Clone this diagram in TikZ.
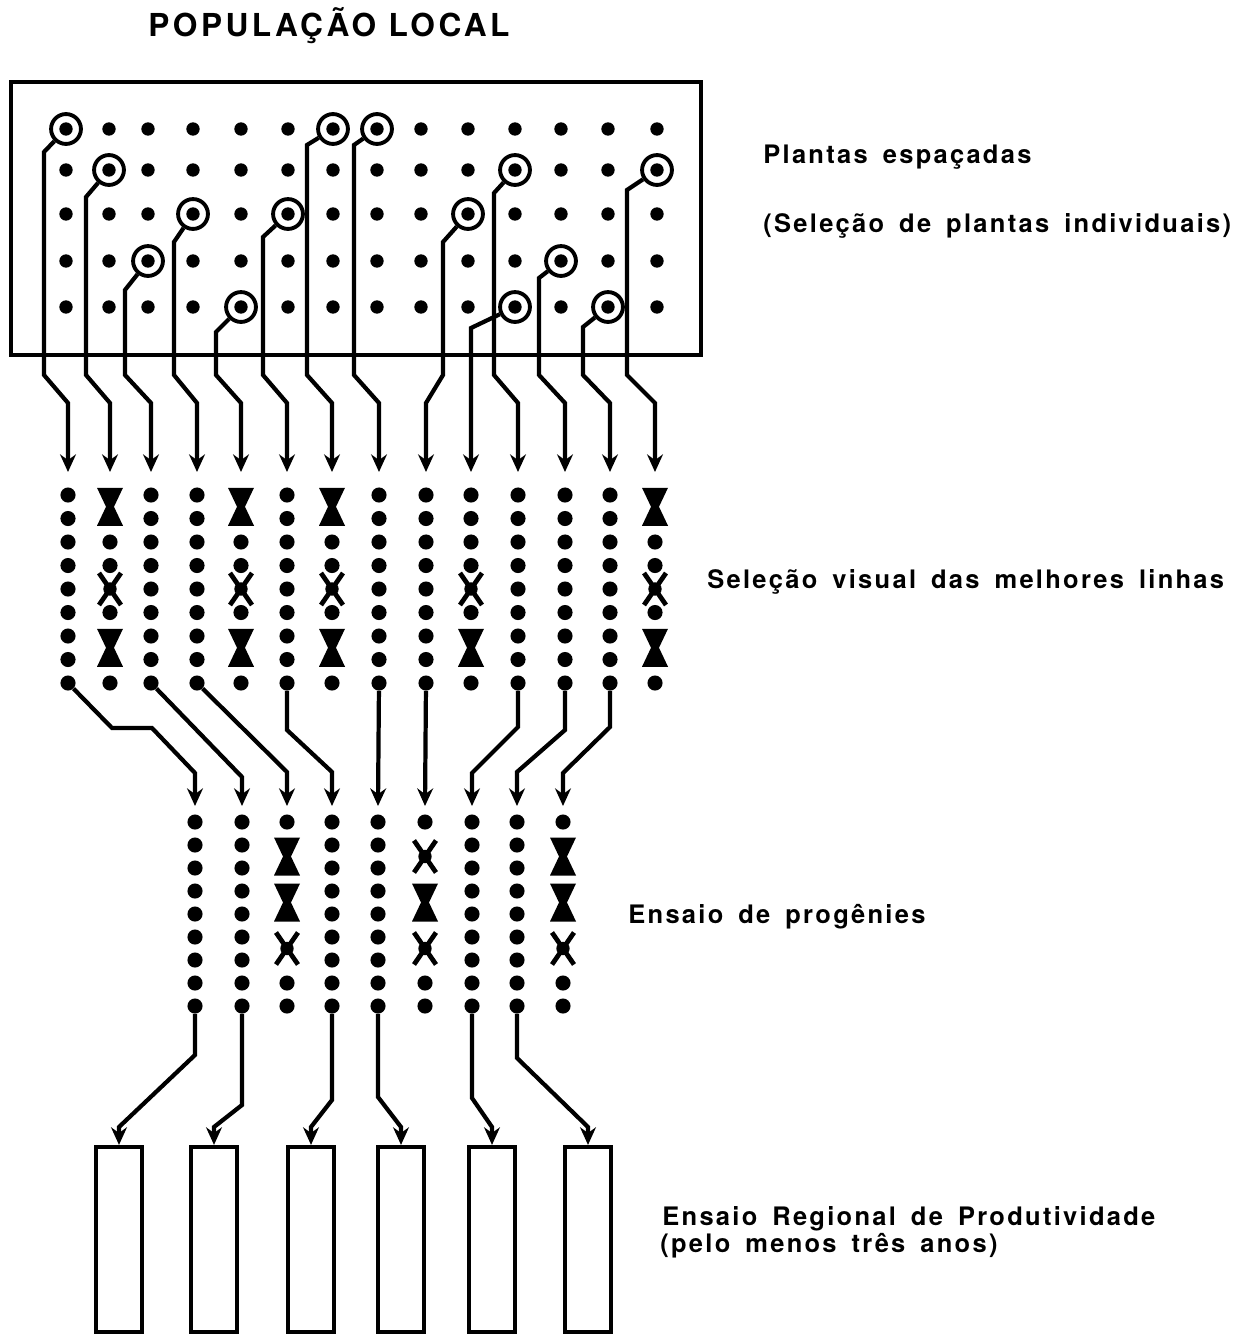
\documentclass[tikz,border=0pt]{standalone}
\usepackage{fontspec}
\setmainfont{TeX Gyre Heros}
\newfontfamily\titlefont[LetterSpace=11]{TeX Gyre Heros}
\newfontfamily\labelfont[LetterSpace=9,WordSpace=1.6]{TeX Gyre Heros}
\usetikzlibrary{arrows.meta}
\tikzset{
  link/.style={line width=2.4pt},
  plant/.style={circle,fill,inner sep=0pt,minimum size=8.6pt},
  chosen/.style={circle,draw,line width=2.2pt,inner sep=0pt,minimum size=17pt},
  plotbox/.style={draw,line width=2.4pt,inner sep=0pt,minimum width=0.92cm,minimum height=3.7cm},
  lbl/.style={anchor=base west,inner sep=0pt,font=\labelfont\bfseries\fontsize{14.5}{17}\selectfont},
  hglass/.pic={\fill (-13,-19) -- (13,-19) -- (4,0) -- (13,19) -- (-13,19) -- (-4,0) -- cycle;},
  thinx/.pic={\draw[line width=2.7pt] (-11,-16) -- (11,16) (-11,16) -- (11,-16); \fill (0,0) circle (3.8pt);}
}

\begin{document}
\begin{tikzpicture}[x=0.02cm,y=-0.02cm,>={Stealth[length=10pt,width=9pt]}]
\useasboundingbox (0,0) rectangle (1244,1335);

% texts
\node[lbl,font=\titlefont\bfseries\fontsize{18}{21}\selectfont] (title) at (148,37) {POPULAÇÃO LOCAL};
\node[lbl] (spaced) at (763,163) {Plantas espaçadas};
\node[lbl] (single) at (763,232) {(Seleção de plantas individuais)};
\node[lbl] (visual) at (707,588) {Seleção visual das melhores linhas};
\node[lbl] (progeny) at (628,923) {Ensaio de progênies};
\node[lbl] (regional) at (662,1225) {Ensaio Regional de Produtividade};
\node[lbl] (years) at (660,1252) {(pelo menos três anos)};

% local population
\draw[line width=2.4pt] (11,82) rectangle (701,355);
\foreach \x in {66,109,148,193,241,288,333,377,421,468,515,561,608,657}
  \foreach \y in {129,170,214,261,307}
    \fill (\x,\y) circle (3.8pt);
\foreach \n/\x/\y in {1/66/129,2/109/170,3/148/261,4/193/214,5/241/307,6/288/214,7/333/129,
    8/377/129,9/468/214,10/515/307,11/515/170,12/561/261,13/608/307,14/657/170}
  \node[chosen] (p\n) at (\x,\y) {};

% to the lines
\foreach \n/\vx/\cy/\tx in {1/44/152/68,2/86/197/110,3/125/290/151,4/174/242/197,5/216/332/241,
    6/263/237/287,7/307/145/332,8/354/145/379,9/443/242/426,10/471/328/471,11/494/193/518,
    12/539/278/565,13/583/327/610,14/627/190/655}{
  \coordinate (t\n) at (\tx,472);
  \draw[link,->] (p\n) -- (\vx,\cy) -- (\vx,375) -- (\tx,403) -- (t\n);
}

% lines
\foreach \n/\x in {1/68,2/151,3/197,4/287,5/379,6/426,7/518,8/565,9/610}{
  \foreach \j in {0,...,7} \fill (\x,495+23.5*\j) circle (4.3pt);
  \node[plant] (u\n) at (\x,683) {};
}
\foreach \x in {110,241,332,655}{
  \foreach \j in {2,3,5,8} \fill (\x,495+23.5*\j) circle (4.3pt);
  \pic at (\x,506.75) {hglass};
  \pic at (\x,589) {thinx};
  \pic at (\x,647.75) {hglass};
}
\foreach \j in {0,1,2,3,5,8} \fill (471,495+23.5*\j) circle (4.3pt);
\pic at (471,589) {thinx};
\pic at (471,647.75) {hglass};

% to the progenies
\foreach \n/\x in {1/195,2/242,3/287,4/332,5/378,6/425,7/472,8/517,9/563}
  \coordinate (v\n) at (\x,806);
\draw[link,->] (u1) -- (112,728) -- (152,728) -- (195,773) -- (v1);
\draw[link,->] (u2) -- (242,777) -- (v2);
\draw[link,->] (u3) -- (287,772) -- (v3);
\draw[link,->] (u4) -- (287,730) -- (332,772) -- (v4);
\draw[link,->] (u5) -- (v5);
\draw[link,->] (u6) -- (v6);
\draw[link,->] (u7) -- (518,727) -- (472,773) -- (v7);
\draw[link,->] (u8) -- (565,730) -- (517,772) -- (v8);
\draw[link,->] (u9) -- (610,727) -- (563,773) -- (v9);

% progenies
\foreach \n/\x in {1/195,2/242,4/332,5/378,7/472,8/517}{
  \foreach \j in {0,...,7} \fill (\x,822+23*\j) circle (4.3pt);
  \node[plant] (w\n) at (\x,1006) {};
}
\foreach \x in {287,425,563}{
  \foreach \j in {0,7,8} \fill (\x,822+23*\j) circle (4.3pt);
  \pic at (\x,902.5) {hglass};
  \pic at (\x,948.5) {thinx};
}
\pic at (287,856.5) {hglass};
\pic at (425,856.5) {thinx};
\pic at (563,856.5) {hglass};

% regional trials
\foreach \n/\x in {1/119,2/214,3/311,4/401,5/492,6/588}
  \node[plotbox] (r\n) at (\x,1239.5) {};
\draw[link,->] (w1) -- (195,1055) -- (119,1127) -- (r1.north);
\draw[link,->] (w2) -- (242,1105) -- (214,1127) -- (r2.north);
\draw[link,->] (w4) -- (332,1100) -- (311,1127) -- (r3.north);
\draw[link,->] (w5) -- (378,1097) -- (401,1127) -- (r4.north);
\draw[link,->] (w7) -- (472,1098) -- (492,1127) -- (r5.north);
\draw[link,->] (w8) -- (517,1058) -- (588,1127) -- (r6.north);
\end{tikzpicture}
\end{document}
